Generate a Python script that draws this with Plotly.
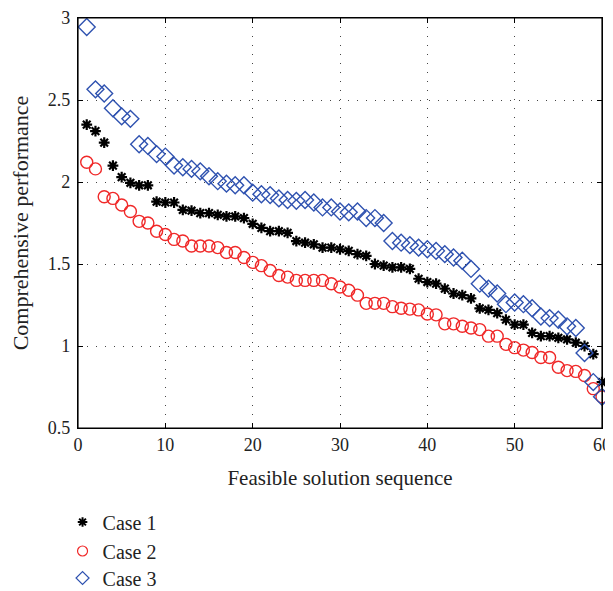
import plotly.graph_objects as go

x_seq = list(range(1, 61))

case1 = [2.35, 2.31, 2.24, 2.10, 2.03, 1.995, 1.98, 1.98, 1.88, 1.875,
         1.875, 1.83, 1.825, 1.81, 1.81, 1.80, 1.79, 1.79, 1.78, 1.745,
         1.72, 1.70, 1.70, 1.69, 1.64, 1.63, 1.62, 1.60, 1.60, 1.59,
         1.58, 1.56, 1.55, 1.50, 1.49, 1.48, 1.48, 1.47, 1.41, 1.39,
         1.38, 1.35, 1.32, 1.31, 1.29, 1.23, 1.22, 1.20, 1.16, 1.13,
         1.13, 1.08, 1.06, 1.06, 1.05, 1.04, 1.02, 1.00, 0.95, 0.78]

case2 = [2.12, 2.08, 1.91, 1.90, 1.86, 1.82, 1.76, 1.75, 1.70, 1.68,
         1.65, 1.64, 1.61, 1.61, 1.61, 1.60, 1.57, 1.57, 1.54, 1.51,
         1.49, 1.46, 1.43, 1.42, 1.40, 1.40, 1.40, 1.40, 1.38, 1.36,
         1.34, 1.31, 1.26, 1.26, 1.26, 1.24, 1.23, 1.225, 1.22, 1.195,
         1.19, 1.135, 1.135, 1.12, 1.11, 1.10, 1.06, 1.06, 1.01, 0.99,
         0.975, 0.96, 0.93, 0.93, 0.87, 0.85, 0.845, 0.82, 0.74, 0.69]

case3 = [2.945, 2.565, 2.54, 2.45, 2.40, 2.385, 2.23, 2.22, 2.17, 2.155,
         2.10, 2.09, 2.08, 2.065, 2.035, 2.005, 1.99, 1.98, 1.98, 1.935,
         1.925, 1.92, 1.90, 1.89, 1.885, 1.89, 1.875, 1.845, 1.845, 1.82,
         1.815, 1.82, 1.78, 1.78, 1.75, 1.64, 1.63, 1.615, 1.60, 1.59,
         1.58, 1.56, 1.54, 1.52, 1.47, 1.38, 1.35, 1.32, 1.255, 1.265,
         1.255, 1.23, 1.18, 1.17, 1.16, 1.12, 1.11, 0.957, 0.78, 0.69]

series_names = ["Case 1", "Case 2", "Case 3"]
x_ticks = [0, 10, 20, 30, 40, 50, 60]
y_ticks = [0.5, 1, 1.5, 2, 2.5, 3]

FONT = "Liberation Serif"
TXT = "#222222"
colors = ["black", "#f02828", "#2f52b0"]
symbols = ["asterisk-open", "circle-open", "diamond-open"]
sizes = [9, 12, 13]
leg_sizes = [8, 10, 10]
legend_ids = ["legend", "legend2", "legend3"]
values = [case1, case2, case3]

fig = go.Figure()
for i in range(3):
    lw = 2.2 if i == 0 else 1.4
    fig.add_trace(go.Scatter(
        x=x_seq, y=values[i], mode="markers", name=series_names[i],
        showlegend=False, cliponaxis=False,
        marker=dict(symbol=symbols[i], size=sizes[i], color=colors[i],
                    line=dict(color=colors[i], width=lw)),
    ))
    # legend-only entry with smaller marker, as in the reference legend
    fig.add_trace(go.Scatter(
        x=[None], y=[None], mode="markers", name=series_names[i],
        legend=legend_ids[i], showlegend=True,
        marker=dict(symbol=symbols[i], size=leg_sizes[i], color=colors[i],
                    line=dict(color=colors[i], width=2 if i == 0 else 1.2)),
    ))

axis_common = dict(
    showline=True, linecolor="black", linewidth=1.2, mirror="ticks",
    ticks="inside", ticklen=5, tickcolor="black", tickwidth=1,
    showgrid=True, gridcolor="#444444", gridwidth=1, griddash="1px,8px",
    zeroline=False, automargin=False, ticklabeloverflow="allow",
    tickfont=dict(family=FONT, size=18, color=TXT),
)

fig.update_xaxes(range=[0, 60], tickvals=x_ticks,
                 title=dict(text="Feasible solution sequence",
                            font=dict(family=FONT, size=21, color=TXT),
                            standoff=16),
                 **axis_common)
fig.update_yaxes(range=[0.5, 3], tickvals=y_ticks, ticklabelstandoff=3,
                 title=dict(text="Comprehensive performance",
                            font=dict(family=FONT, size=22, color=TXT),
                            standoff=20),
                 **axis_common)

# plot box (MATLAB "box on")
fig.add_shape(type="rect", xref="paper", yref="paper", x0=0, x1=1, y0=0, y1=1,
              line=dict(color="black", width=1.2), fillcolor="rgba(0,0,0,0)",
              layer="above")

leg_common = dict(x=-0.0295, xanchor="left", yanchor="middle",
                  bgcolor="rgba(0,0,0,0)", borderwidth=0,
                  itemsizing="trace",
                  font=dict(family=FONT, size=20, color=TXT))

# the page body adds an 8px offset, so the figure is sized to fit the window
fig.update_layout(
    width=605, height=583,
    margin=dict(l=70, r=11, t=10, b=163, autoexpand=False),
    paper_bgcolor="white", plot_bgcolor="white",
    showlegend=True,
    legend=dict(y=-0.2293, **leg_common),
    legend2=dict(y=-0.3000, **leg_common),
    legend3=dict(y=-0.3659, **leg_common),
)

fig.write_html("out.html")
